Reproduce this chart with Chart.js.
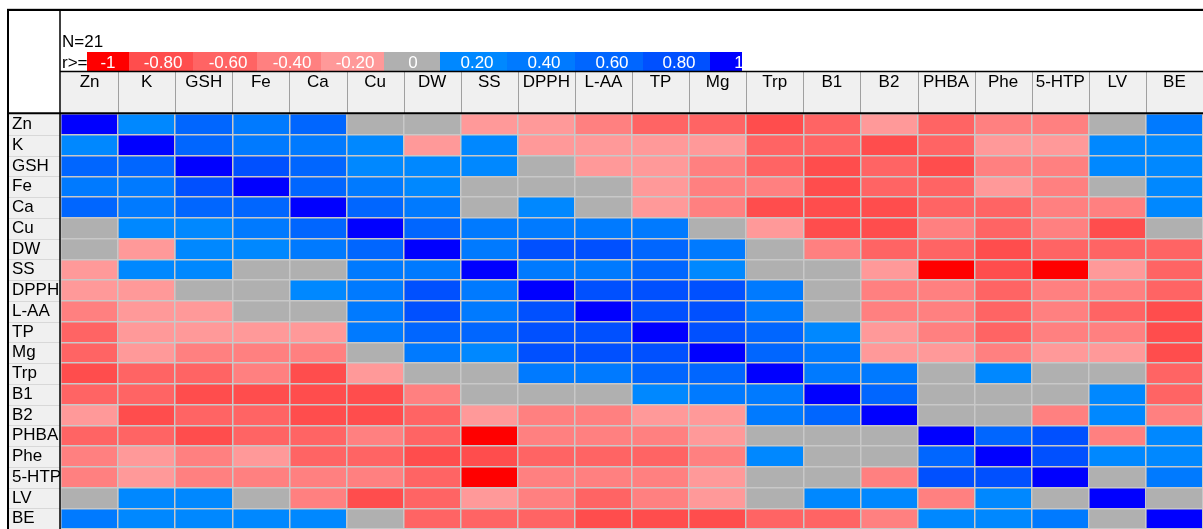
<!DOCTYPE html>
<html>
<head>
<meta charset="utf-8">
<script src="https://cdn.jsdelivr.net/npm/chart.js@4.4.1/dist/chart.umd.min.js"></script>
<style>
  html, body { margin: 0; padding: 0; background: #fff; }
  #box { position: relative; width: 1203px; height: 529px; }
</style>
</head>
<body>
<div id="box"><canvas id="c"></canvas></div>
<script>
// ── Daten ───────────────────────────────────────────────────────────────────
const VARS = ['Zn', 'K', 'GSH', 'Fe', 'Ca', 'Cu', 'DW', 'SS', 'DPPH', 'L-AA',
              'TP', 'Mg', 'Trp', 'B1', 'B2', 'PHBA', 'Phe', '5-HTP', 'LV', 'BE'];
const N_SAMPLES = 21;
// Klassengrenzen der Farbskala (r >= Grenze) und ihre Beschriftung
const LEVELS = [-1, -0.8, -0.6, -0.4, -0.2, 0, 0.2, 0.4, 0.6, 0.8, 1];
const LEVEL_LABELS = ['-1', '-0.80', '-0.60', '-0.40', '-0.20', '0', '0.20', '0.40', '0.60', '0.80', '1'];

// r je Zeile (Spalten in Reihenfolge VARS). Aus den Farbklassen geschaetzt.
const rZn   = [1, 0.3, 0.7, 0.5, 0.7, 0.1, 0.1, -0.1, -0.1, -0.3, -0.5, -0.5, -0.7, -0.5, -0.1, -0.5, -0.3, -0.3, 0.1, 0.5];
const rK    = [0.3, 1, 0.7, 0.5, 0.5, 0.3, -0.1, 0.3, -0.1, -0.1, -0.1, -0.1, -0.5, -0.5, -0.7, -0.5, -0.1, -0.1, 0.3, 0.3];
const rGSH  = [0.7, 0.7, 1, 0.9, 0.7, 0.3, 0.3, 0.3, 0.1, -0.1, -0.1, -0.3, -0.5, -0.7, -0.5, -0.7, -0.3, -0.3, 0.3, 0.3];
const rFe   = [0.5, 0.5, 0.9, 1, 0.7, 0.5, 0.3, 0.1, 0.1, 0.1, -0.1, -0.3, -0.3, -0.7, -0.5, -0.5, -0.1, -0.3, 0.1, 0.3];
const rCa   = [0.7, 0.5, 0.7, 0.7, 1, 0.7, 0.5, 0.1, 0.3, 0.1, -0.1, -0.3, -0.7, -0.7, -0.7, -0.5, -0.5, -0.3, -0.3, 0.3];
const rCu   = [0.1, 0.3, 0.3, 0.5, 0.7, 1, 0.7, 0.5, 0.5, 0.5, 0.5, 0.1, -0.1, -0.7, -0.7, -0.3, -0.5, -0.3, -0.7, 0.1];
const rDW   = [0.1, -0.1, 0.3, 0.3, 0.5, 0.7, 1, 0.5, 0.9, 0.9, 0.7, 0.5, 0.1, -0.3, -0.5, -0.5, -0.7, -0.5, -0.5, -0.5];
const rSS   = [-0.1, 0.3, 0.3, 0.1, 0.1, 0.5, 0.5, 1, 0.5, 0.5, 0.7, 0.3, 0.1, 0.1, -0.1, -0.9, -0.7, -0.9, -0.1, -0.5];
const rDPPH = [-0.1, -0.1, 0.1, 0.1, 0.3, 0.5, 0.9, 0.5, 1, 0.9, 0.9, 0.9, 0.5, 0.1, -0.3, -0.3, -0.5, -0.3, -0.3, -0.5];
const rLAA  = [-0.3, -0.1, -0.1, 0.1, 0.1, 0.5, 0.9, 0.5, 0.9, 1, 0.9, 0.9, 0.5, 0.1, -0.3, -0.3, -0.5, -0.3, -0.5, -0.7];
const rTP   = [-0.5, -0.1, -0.1, -0.1, -0.1, 0.5, 0.7, 0.7, 0.9, 0.9, 1, 0.9, 0.7, 0.3, -0.1, -0.3, -0.5, -0.3, -0.3, -0.7];
const rMg   = [-0.5, -0.1, -0.3, -0.3, -0.3, 0.1, 0.5, 0.3, 0.9, 0.9, 0.9, 1, 0.7, 0.5, -0.1, -0.1, -0.3, -0.1, -0.1, -0.7];
const rTrp  = [-0.7, -0.5, -0.5, -0.3, -0.7, -0.1, 0.1, 0.1, 0.5, 0.5, 0.7, 0.7, 1, 0.5, 0.5, 0.1, 0.3, 0.1, 0.1, -0.5];
const rB1   = [-0.5, -0.5, -0.7, -0.7, -0.7, -0.7, -0.3, 0.1, 0.1, 0.1, 0.3, 0.5, 0.5, 1, 0.7, 0.1, 0.1, 0.1, 0.3, -0.5];
const rB2   = [-0.1, -0.7, -0.5, -0.5, -0.7, -0.7, -0.5, -0.1, -0.3, -0.3, -0.1, -0.1, 0.5, 0.7, 1, 0.1, 0.1, -0.3, 0.3, -0.3];
const rPHBA = [-0.5, -0.5, -0.7, -0.5, -0.5, -0.3, -0.5, -0.9, -0.3, -0.3, -0.3, -0.1, 0.1, 0.1, 0.1, 1, 0.7, 0.9, -0.3, 0.3];
const rPhe  = [-0.3, -0.1, -0.3, -0.1, -0.5, -0.5, -0.7, -0.7, -0.5, -0.5, -0.5, -0.3, 0.3, 0.1, 0.1, 0.7, 1, 0.9, 0.3, 0.3];
const r5HTP = [-0.3, -0.1, -0.3, -0.3, -0.3, -0.3, -0.5, -0.9, -0.3, -0.3, -0.3, -0.1, 0.1, 0.1, -0.3, 0.9, 0.9, 1, 0.1, 0.5];
const rLV   = [0.1, 0.3, 0.3, 0.1, -0.3, -0.7, -0.5, -0.1, -0.3, -0.5, -0.3, -0.1, 0.1, 0.3, 0.3, -0.3, 0.3, 0.1, 1, 0.1];
const rBE   = [0.5, 0.3, 0.3, 0.3, 0.3, 0.1, -0.5, -0.5, -0.5, -0.7, -0.7, -0.7, -0.5, -0.5, -0.3, 0.3, 0.3, 0.5, 0.1, 1];

const R = [rZn, rK, rGSH, rFe, rCa, rCu, rDW, rSS, rDPPH, rLAA,
           rTP, rMg, rTrp, rB1, rB2, rPHBA, rPhe, r5HTP, rLV, rBE];

// ── Farbskala ───────────────────────────────────────────────────────────────
const PALETTE = ['#ff0000', '#ff4d4d', '#ff6464', '#ff8080', '#ff9999', '#b0b0b0',
                 '#0088ff', '#007aff', '#0066ff', '#0050ff', '#0000ff'];
const FONT = "'Liberation Sans', Arial, sans-serif";

function colorOf(r) {
  let k = 0;
  LEVELS.forEach((t, i) => { if (r >= t - 1e-9) k = i; });
  return PALETTE[k];
}

// ── Rahmen, Kopf und Legende ────────────────────────────────────────────────
const frame = {
  id: 'frame',
  beforeDraw(ch) {
    const { ctx, chartArea: a, scales } = ch;
    ctx.save();
    ctx.fillStyle = '#fff';
    ctx.fillRect(0, 0, ch.width, ch.height);
    // Kopfzeile und Zeilenkoepfe grau hinterlegen
    ctx.fillStyle = '#f0f0f0';
    ctx.fillRect(a.left, 72, a.right - a.left, a.top - 72);
    ctx.fillRect(9, a.top, a.left - 9, a.bottom - a.top);
    ctx.strokeStyle = '#a0a0a0';
    ctx.lineWidth = 1;
    for (let j = 1; j < VARS.length; j++) {
      const x = Math.round(scales.x.getPixelForValue(j)) + 0.5;
      ctx.beginPath(); ctx.moveTo(x, 72); ctx.lineTo(x, a.top); ctx.stroke();
    }
    ctx.strokeStyle = '#d8d8d8';
    for (let i = 1; i < VARS.length; i++) {
      const y = Math.round(scales.y.getPixelForValue(i - 0.5)) + 0.5;
      ctx.beginPath(); ctx.moveTo(9, y); ctx.lineTo(a.left, y); ctx.stroke();
    }
    // Legende
    ctx.font = '17px ' + FONT;
    ctx.fillStyle = '#000';
    ctx.textAlign = 'left';
    ctx.textBaseline = 'alphabetic';
    ctx.fillText('N=' + N_SAMPLES, 62, 47);
    ctx.fillText('r>=', 62, 68);
    const edges = [87, 129, 193, 257, 321, 384, 440, 507, 575, 643, 710, 742];
    const mids = [108, 163, 228, 292, 355, 413, 477, 544, 612, 679, 739];
    LEVEL_LABELS.forEach((lab, i) => {
      ctx.fillStyle = PALETTE[i];
      ctx.fillRect(edges[i], 52, edges[i + 1] - edges[i], 19);
    });
    ctx.fillStyle = '#fff';
    ctx.textAlign = 'center';
    LEVEL_LABELS.forEach((lab, i) => ctx.fillText(lab, mids[i], 68));
    ctx.restore();
  },
  afterDraw(ch) {
    const { ctx } = ch;
    ctx.save();
    ctx.strokeStyle = '#d0d0d0';
    ctx.lineWidth = 1;
    ctx.beginPath(); ctx.moveTo(7, 8.5); ctx.lineTo(ch.width, 8.5); ctx.stroke();
    ctx.strokeStyle = '#000';
    const line = (x1, y1, x2, y2, w) => {
      ctx.lineWidth = w;
      ctx.beginPath(); ctx.moveTo(x1, y1); ctx.lineTo(x2, y2); ctx.stroke();
    };
    line(7, 10, ch.width, 10, 2);
    line(8, 9, 8, ch.height, 2);
    line(60, 10, 60, ch.height, 1.5);
    line(60, 71.5, ch.width, 71.5, 1.5);
    line(7, 113.3, ch.width, 113.3, 2);
    ctx.restore();
  },
};

// ── Chart ───────────────────────────────────────────────────────────────────
// Jede Spalte ist ein Datensatz aus schwebenden Balken [j, j+1], eine Zeile je
// Kategorie. grouped:false, damit alle Spalten das volle Band belegen.
const datasets = VARS.map((col, j) => ({
  label: col,
  data: VARS.map(() => [j, j + 1]),
  backgroundColor: VARS.map((row, i) => colorOf(R[i][j])),
  borderWidth: 0,
  grouped: false,
  barPercentage: 1,
  categoryPercentage: 1,
}));

new Chart(document.getElementById('c'), {
  type: 'bar',
  data: { labels: VARS, datasets },
  options: {
    indexAxis: 'y',
    responsive: true, maintainAspectRatio: false, animation: false,
    layout: { padding: { left: 12, top: 0, right: 0, bottom: 0 } },
    plugins: { legend: { display: false }, tooltip: { enabled: false } },
    scales: {
      x: { type: 'linear', min: 0, max: VARS.length, display: false },
      x2: {
        type: 'category', labels: VARS, position: 'top', offset: true,
        // Feste Kopfhoehe; Randabstaende fuer ueberstehende Labels abschalten
        afterFit: s => { s.height = 114; s.paddingLeft = 0; s.paddingRight = 0; },
        grid: { offset: true, color: '#c8c8c8', lineWidth: 1.5, z: 1, drawTicks: false },
        border: { display: false },
        ticks: { padding: 21, maxRotation: 0, autoSkip: false, color: '#000',
                 font: { family: FONT, size: 17 } },
      },
      y: {
        type: 'category', labels: VARS, offset: true,
        afterFit: s => { s.width = 49; s.paddingTop = 0; s.paddingBottom = 0; },
        grid: { offset: true, color: '#c8c8c8', lineWidth: 1.5, z: 1, drawTicks: false },
        border: { display: false },
        ticks: { crossAlign: 'far', padding: 0, autoSkip: false, color: '#000',
                 font: { family: FONT, size: 17 } },
      },
    },
  },
  plugins: [frame],
});
</script>
</body>
</html>
